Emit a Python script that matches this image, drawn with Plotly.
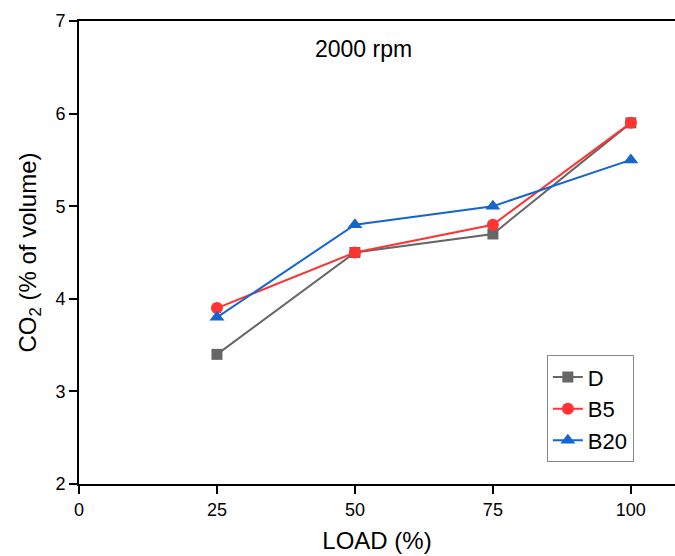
import plotly.graph_objects as go

load = [25, 50, 75, 100]
d_vals = [3.4, 4.5, 4.7, 5.9]
b5_vals = [3.9, 4.5, 4.8, 5.9]
b20_vals = [3.8, 4.8, 5.0, 5.5]

series = [
    ("D", d_vals, "#666666", "square", 11),
    ("B5", b5_vals, "#ff3333", "circle", 12),
    ("B20", b20_vals, "#1565d0", "triangle-up", 13),
]

fig = go.Figure()
for name, vals, color, sym, ms in series:
    fig.add_trace(go.Scatter(
        x=load, y=vals, name=name, mode="lines+markers",
        line=dict(color=color, width=2),
        marker=dict(symbol=sym, size=ms, color=color),
    ))

font = "Liberation Sans, Arial, sans-serif"
fig.update_layout(
    width=675, height=556,
    margin=dict(l=79, r=0, t=21, b=72),
    paper_bgcolor="white", plot_bgcolor="white",
    font=dict(family=font, color="black", size=18),
    showlegend=True,
    legend=dict(
        x=0.785, y=0.278, xanchor="left", yanchor="top",
        bordercolor="#888888", borderwidth=1, bgcolor="white",
        font=dict(size=22, family=font),
        tracegroupgap=0,
    ),
    xaxis=dict(
        range=[0, 108], tickvals=[0, 25, 50, 75, 100],
        showline=True, linecolor="black", linewidth=2, mirror=True,
        ticks="outside", ticklen=8, tickwidth=2, tickcolor="black",
        showgrid=False, zeroline=False,
        title=dict(text="LOAD (%)", font=dict(size=24), standoff=14),
        tickfont=dict(size=18),
    ),
    yaxis=dict(
        range=[2, 7], tickvals=[2, 3, 4, 5, 6, 7],
        showline=True, linecolor="black", linewidth=2, mirror=False,
        ticks="outside", ticklen=8, tickwidth=2, tickcolor="black",
        showgrid=False, zeroline=False,
        title=dict(text="CO<sub>2</sub> (% of volume)", font=dict(size=24), standoff=12),
        tickfont=dict(size=18),
    ),
    annotations=[dict(
        text="2000 rpm", xref="paper", yref="paper", x=0.478, y=0.972,
        showarrow=False, font=dict(size=23, family=font),
    )],
)

fig.write_html("out.html")
